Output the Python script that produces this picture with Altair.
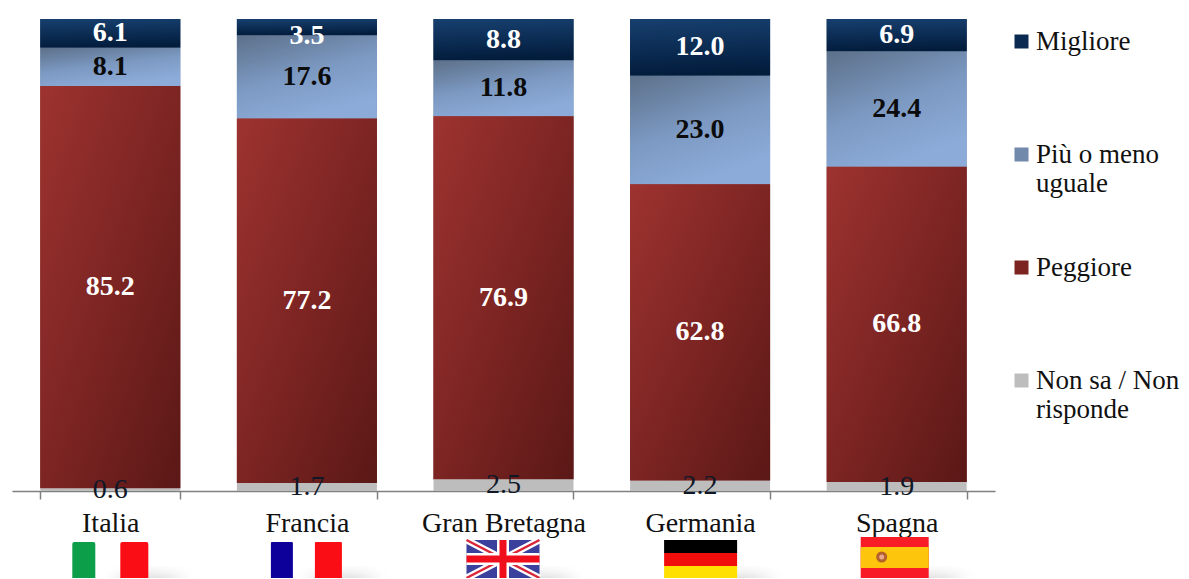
import urllib.parse
import altair as alt
import pandas as pd

countries = ["Italia", "Francia", "Gran Bretagna", "Germania", "Spagna"]
series = ["Migliore", "Più o meno uguale", "Peggiore", "Non sa / Non risponde"]
migliore = [6.1, 3.5, 8.8, 12.0, 6.9]
uguale = [8.1, 17.6, 11.8, 23.0, 24.4]
peggiore = [85.2, 77.2, 76.9, 62.8, 66.8]
non_sa = [0.6, 1.7, 2.5, 2.2, 1.9]

FONT = "Liberation Serif"
rows = []
for s_i, (s, vals) in enumerate(zip(series, [migliore, uguale, peggiore, non_sa])):
    for c, v in zip(countries, vals):
        rows.append({"country": c, "series": s, "value": v, "order": -s_i})
df = pd.DataFrame(rows)


def grad(stops, x2=1, y2=1):
    return alt.LinearGradient(
        gradient="linear", x1=0, y1=0, x2=x2, y2=y2,
        stops=[alt.GradientStop(color=c, offset=o) for o, c in stops],
    )


def svg_uri(inner):
    svg = ('<svg xmlns="http://www.w3.org/2000/svg" width="240" height="70" viewBox="0 0 240 70">'
           '<defs><filter id="b" x="-60%" y="-100%" width="220%" height="300%"><feGaussianBlur stdDeviation="9"/></filter>'
           '<filter id="s"><feGaussianBlur stdDeviation="0.7"/></filter></defs>' + inner + '</svg>')
    return "data:image/svg+xml," + urllib.parse.quote(svg)


def shadow(cx):
    return f'<ellipse cx="{cx}" cy="57" rx="34" ry="7" fill="#777" opacity="0.55" filter="url(#b)"/>'


flags = {
    "Italia": svg_uri(shadow(158) +
        '<g filter="url(#s)"><rect x="82" y="12" width="23" height="38" rx="2" fill="#0a9e48"/>'
        '<rect x="130" y="12" width="28" height="38" rx="2" fill="#fb0a12"/></g>'),
    "Francia": svg_uri(shadow(155) +
        '<g filter="url(#s)"><rect x="84" y="12" width="22" height="38" rx="1" fill="#10009a"/>'
        '<rect x="128" y="12" width="27" height="38" rx="1" fill="#fb0a12"/></g>'),
    "Gran Bretagna": svg_uri(shadow(156) +
        '<g filter="url(#s)"><rect x="83" y="10" width="73" height="38" fill="#3a3f9c"/>'
        '<path d="M83 10L156 48M156 10L83 48" stroke="#fff" stroke-width="7"/>'
        '<path d="M83 10L156 48M156 10L83 48" stroke="#d9263a" stroke-width="2.5"/>'
        '<path d="M119.500 10V48M83 29H156" stroke="#fff" stroke-width="12"/>'
        '<path d="M119.500 10V48M83 29H156" stroke="#f0101c" stroke-width="7"/></g>'),
    "Germania": svg_uri(shadow(157) +
        '<g filter="url(#s)"><rect x="84" y="10" width="73" height="13" fill="#050505"/>'
        '<rect x="84" y="23" width="73" height="13" fill="#f20d0d"/>'
        '<rect x="84" y="36" width="73" height="13" fill="#ffe000"/></g>'),
    "Spagna": svg_uri(shadow(152) +
        '<g filter="url(#s)"><rect x="84" y="7" width="68" height="41" fill="#f81a28"/>'
        '<rect x="84" y="17" width="68" height="21" fill="#fdc60a"/>'
        '<circle cx="105" cy="27" r="5.500" fill="#b4602a"/><circle cx="105" cy="27" r="2.500" fill="#e8a890"/></g>'),
}
flag_df = pd.DataFrame({"country": countries, "flag": [flags[c] for c in countries]})

x_enc = alt.X("country:N", sort=countries, title=None,
              scale=alt.Scale(paddingInner=0.288, paddingOuter=0.144),
              axis=alt.Axis(labelAngle=0, labelAlign="center", labelBaseline="top",
                            labelFont=FONT, labelFontSize=28, labelColor="#111",
                            labelPadding=10, domainColor="#808080", tickColor="#808080",
                            domainWidth=1.5, tickWidth=1.5, tickSize=8, tickBand="extent",
                            grid=False, labelLimit=300))
y_enc = alt.Y("y0:Q", scale=alt.Scale(domain=[0, 100], nice=False), axis=None, title=None)

legend = alt.Legend(orient="none", legendX=996, legendY=9, title=None, symbolType="square",
                    symbolSize=196, symbolStrokeWidth=0, labelFont=FONT, labelFontSize=27,
                    labelColor="#111", labelOffset=1, rowPadding=56, gridAlign="all",
                    padding=0, labelLimit=300,
                    labelExpr="datum.label == 'Più o meno uguale' ? ['Più o meno', 'uguale'] : "
                              "datum.label == 'Non sa / Non risponde' ? ['Non sa / Non', 'risponde'] : "
                              "datum.label")

base = alt.Chart(df).transform_stack(
    stack="value", groupby=["country"], sort=[alt.SortField("order")], as_=["y0", "y1"]
).transform_calculate(mid="(datum.y0 + datum.y1) / 2")

solid = base.mark_bar(size=140).encode(
    x=x_enc, y=y_enc, y2="y1:Q",
    color=alt.Color("series:N", sort=series, legend=legend,
                    scale=alt.Scale(domain=series, range=["#0a2a52", "#7189ab", "#7b2422", "#bdbdbd"])),
)


def grad_layer(s, fill):
    return base.transform_filter(alt.datum.series == s).mark_bar(size=140, fill=fill).encode(
        x=alt.X("country:N", sort=countries), y=alt.Y("y0:Q"), y2="y1:Q")


g1 = grad_layer(series[0], grad([(0, "#17406f"), (1, "#021c3c")], x2=0.1, y2=1))
g2 = grad_layer(series[1], grad([(0, "#5c7089"), (0.55, "#7c99c2"), (1, "#8cabd8")], x2=0.45, y2=1))
g3 = grad_layer(series[2], grad([(0, "#9d3330"), (0.5, "#7d2523"), (1, "#5a1816")]))


def labels(cond, color, weight, dy=0):
    return base.transform_filter(cond).mark_text(
        font=FONT, fontSize=28, fontWeight=weight, color=color, dy=dy
    ).encode(x=alt.X("country:N", sort=countries), y=alt.Y("mid:Q"),
             text=alt.Text("value:Q", format=".1f"))


d = alt.datum
t1 = labels((d.series == series[0]) & (d.country != "Francia") | (d.series == series[2]), "#ffffff", "bold")
t2 = labels((d.series == series[0]) & (d.country == "Francia"), "#ffffff", "bold", dy=9)
t3 = labels(d.series == series[1], "#0b0b0b", "bold")
t4 = labels(d.series == series[3], "#101828", "normal")

flag_marks = alt.Chart(flag_df).mark_image(width=240, height=70, align="center", baseline="top").encode(
    x=alt.X("country:N", sort=countries), y=alt.value(511), url="flag:N")

chart = alt.layer(flag_marks, solid, g1, g2, g3, t1, t2, t3, t4).properties(
    width=983, height=472,
    padding={"left": 4, "top": 11, "right": 186, "bottom": 87},
    autosize=alt.AutoSizeParams(type="none"),
).configure_view(stroke=None).configure_legend(titlePadding=0)

chart.save("out.html", embed_options={"renderer": "svg", "actions": False})
